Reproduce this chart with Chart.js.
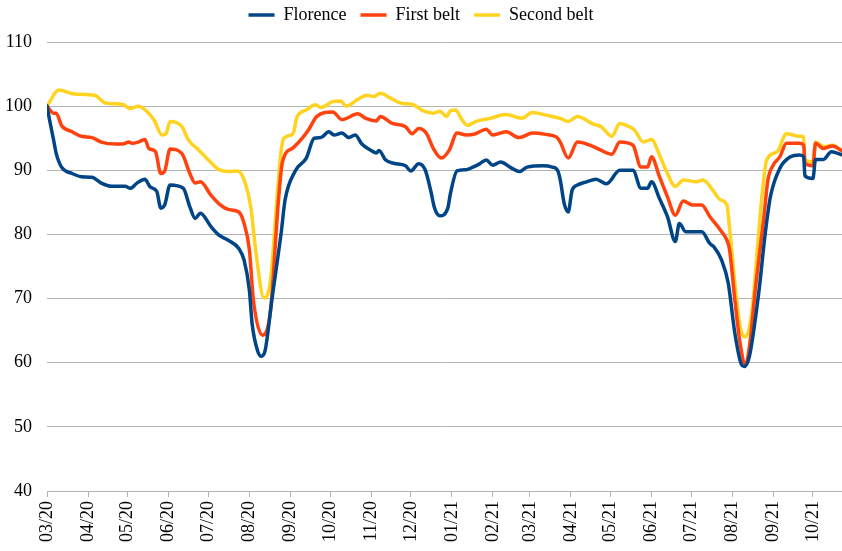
<!DOCTYPE html>
<html>
<head>
<meta charset="utf-8">
<script src="https://cdn.jsdelivr.net/npm/chart.js@4/dist/chart.umd.min.js"></script>
<style>
  html, body { margin: 0; padding: 0; background: #fff; }
  #wrap { width: 842px; height: 551px; }
</style>
</head>
<body>
<div id="wrap"><canvas id="chart"></canvas></div>
<script>
// x = days since 01/03/2020, y = index (start = 100)
const monthDays = [0, 31, 61, 92, 122, 153, 184, 214, 245, 275, 306, 337, 365, 396, 426, 457, 487, 518, 549, 579];
const monthLabels = ['03/20', '04/20', '05/20', '06/20', '07/20', '08/20', '09/20', '10/20', '11/20', '12/20',
                     '01/21', '02/21', '03/21', '04/21', '05/21', '06/21', '07/21', '08/21', '09/21', '10/21'];
const yTicks = [40, 50, 60, 70, 80, 90, 100, 110];

const florenceDays = [0, 2, 5, 7, 11, 19, 26, 34, 41, 49, 59, 63, 68, 74, 78, 83, 86, 89, 93, 103, 108, 112, 116, 124, 130, 137, 145, 149, 153, 155, 159, 162, 165, 170, 177, 180, 188, 196, 202, 207, 213, 217, 223, 228, 233, 238, 245, 249, 251, 256, 262, 271, 275, 281, 286, 290, 293, 297, 303, 305, 310, 317, 322, 327, 332, 337, 343, 350, 357, 363, 375, 382, 386, 388, 391, 394, 397, 401, 408, 415, 423, 433, 443, 449, 454, 457, 463, 469, 475, 478, 483, 495, 501, 504, 510, 515, 520, 525, 527, 531, 538, 543, 547, 554, 562, 569, 572, 573, 579, 581, 587, 593, 601];
const florence = [100, 97.8, 94.7, 92.6, 90.5, 89.5, 89, 88.9, 88, 87.5, 87.5, 87.2, 88, 88.6, 87.4, 86.7, 84.1, 84.6, 87.7, 87.2, 84.3, 82.5, 83.3, 81.2, 79.9, 79.1, 77.8, 76, 71.3, 66.2, 62, 61, 62, 69.8, 80.2, 85.4, 90, 91.9, 95, 95.1, 96, 95.5, 95.8, 95.1, 95.5, 94.1, 93.1, 92.7, 93.1, 91.6, 91.1, 90.7, 89.9, 91, 90, 86.9, 84.1, 82.9, 84.1, 86.4, 89.9, 90.1, 90.5, 91, 91.6, 90.8, 91.3, 90.5, 89.8, 90.5, 90.7, 90.5, 90, 88.5, 84.8, 83.5, 86.9, 87.7, 88.2, 88.6, 87.9, 90, 90, 87.2, 87.2, 88.2, 85.6, 82.8, 78.9, 81.7, 80.4, 80.4, 78.6, 78.1, 76, 72.4, 64.6, 59.7, 59.4, 61, 70.8, 80.2, 86, 90.3, 92.1, 92.4, 92.1, 89.1, 88.7, 91.7, 91.7, 92.9, 92.4];

const firstDays = [0, 5, 7, 11, 19, 26, 34, 41, 52, 57, 62, 64, 69, 74, 77, 82, 86, 89, 93, 102, 108, 112, 116, 124, 131, 137, 145, 149, 153, 156, 163, 169, 175, 178, 186, 193, 198, 204, 216, 223, 235, 241, 249, 252, 261, 271, 276, 281, 287, 292, 298, 304, 310, 317, 324, 332, 337, 347, 357, 367, 377, 385, 388, 394, 401, 413, 419, 427, 433, 443, 449, 454, 457, 463, 469, 475, 481, 488, 495, 501, 509, 514, 516, 520, 524, 528, 531, 536, 542, 545, 549, 554, 559, 569, 572, 573, 579, 581, 587, 594, 601];
const firstBelt = [100, 98.9, 98.9, 97, 96, 95.3, 95.1, 94.4, 94.1, 94.1, 94.4, 94.2, 94.4, 94.8, 93.4, 92.9, 89.5, 89.9, 93.3, 92.6, 89.5, 88, 88.2, 86.1, 84.6, 83.9, 83.5, 81.7, 77.6, 69.8, 64.3, 68.2, 85.4, 91.3, 93.5, 95, 96.4, 98.4, 99.1, 97.9, 98.8, 98.1, 97.7, 98.4, 97.3, 96.8, 95.7, 96.5, 95.7, 93.4, 91.9, 93.1, 95.8, 95.5, 95.7, 96.4, 95.5, 96, 95.1, 95.8, 95.6, 95.2, 94.4, 91.9, 94.4, 93.7, 93.1, 92.5, 94.4, 93.9, 90.5, 90.5, 92.1, 89, 85.9, 83, 85.2, 84.6, 84.6, 82.8, 80.7, 79.1, 77.6, 69.8, 63, 59.7, 62.5, 72.4, 82.8, 88.5, 90.8, 92.1, 94.2, 94.2, 93.9, 91.1, 90.7, 94.2, 93.4, 93.8, 93];

const secondDays = [0, 9, 21, 36, 44, 57, 63, 69, 76, 81, 87, 90, 93, 102, 107, 115, 122, 130, 137, 144, 149, 154, 158, 164, 169, 174, 177, 179, 186, 189, 196, 203, 207, 216, 222, 226, 236, 242, 247, 252, 260, 269, 276, 284, 292, 297, 302, 305, 309, 313, 318, 324, 335, 347, 359, 367, 377, 388, 394, 401, 413, 419, 427, 433, 441, 444, 451, 457, 463, 468, 475, 481, 491, 496, 504, 509, 514, 516, 520, 524, 528, 533, 538, 541, 544, 552, 559, 569, 572, 573, 579, 581, 587, 594, 601];
const secondBelt = [100, 102.5, 101.9, 101.7, 100.5, 100.3, 99.6, 100, 99.1, 97.8, 95.5, 95.7, 97.6, 96.8, 94.7, 93.1, 91.6, 90.1, 89.8, 89.9, 88.5, 84.3, 77.1, 70.1, 72.9, 86, 93, 95, 95.7, 98.3, 99.4, 100.2, 99.8, 100.7, 100.8, 100, 101.2, 101.7, 101.5, 102, 101.2, 100.4, 100.3, 99.3, 98.9, 99.2, 98.4, 99.3, 99.4, 98.1, 97, 97.6, 98.1, 98.7, 98.1, 99, 98.6, 98.1, 97.6, 98.4, 97.2, 96.8, 95.3, 97.3, 96.7, 96.3, 94.4, 94.8, 92.4, 90, 87.5, 88.5, 88.2, 88.5, 86.7, 85.4, 84.6, 81, 72.4, 65.6, 64, 68.2, 80.2, 87, 91.6, 92.9, 95.7, 95.3, 95.2, 91.6, 91.3, 94.4, 93.7, 93.9, 92.9];

const toPoints = (days, vals) => days.map((d, i) => ({ x: d, y: vals[i] }));

const serif = '"Liberation Serif", "Times New Roman", serif';
const gridColor = '#b3b3b3';

// legend keeps its height (space above the plot) but is drawn a bit higher
const legendShift = {
  id: 'legendShift',
  afterLayout(chart) {
    chart.legend.top -= 8;
  }
};

new Chart(document.getElementById('chart'), {
  type: 'line',
  plugins: [legendShift],
  data: {
    datasets: [
      { label: 'Florence', data: toPoints(florenceDays, florence), borderColor: '#004586', backgroundColor: '#004586', borderWidth: 3.5 },
      { label: 'First belt', data: toPoints(firstDays, firstBelt), borderColor: '#ff420e', backgroundColor: '#ff420e', borderWidth: 3.5 },
      { label: 'Second belt', data: toPoints(secondDays, secondBelt), borderColor: '#ffd320', backgroundColor: '#ffd320', borderWidth: 3.5 }
    ]
  },
  options: {
    responsive: true,
    maintainAspectRatio: false,
    animation: false,
    layout: { padding: 0 },
    elements: {
      point: { radius: 0 },
      line: { tension: 0.35, cubicInterpolationMode: 'monotone', borderCapStyle: 'round', borderJoinStyle: 'round' }
    },
    plugins: {
      tooltip: { enabled: false },
      legend: {
        position: 'top',
        labels: {
          color: '#000',
          font: { family: serif, size: 18 },
          usePointStyle: true,
          pointStyle: 'line',
          pointStyleWidth: 26,
          padding: 14
        }
      }
    },
    scales: {
      x: {
        type: 'linear',
        min: 0,
        max: 601,
        afterBuildTicks: (scale) => { scale.ticks = monthDays.map(v => ({ value: v })); },
        afterFit: (scale) => { scale.height = 60; },
        ticks: {
          color: '#000',
          font: { family: serif, size: 18 },
          minRotation: 90,
          maxRotation: 90,
          padding: 4,
          autoSkip: false,
          callback: (v, i) => monthLabels[i]
        },
        grid: { drawOnChartArea: false, drawTicks: true, tickLength: 6, color: gridColor },
        border: { display: true, color: gridColor, width: 1 }
      },
      y: {
        min: 40,
        max: 110,
        afterBuildTicks: (scale) => { scale.ticks = yTicks.map(v => ({ value: v })); },
        afterFit: (scale) => { scale.width = 47; },
        ticks: { color: '#000', font: { family: serif, size: 18 }, padding: 15 },
        grid: { color: gridColor, drawTicks: false },
        border: { display: false }
      }
    }
  }
});
</script>
</body>
</html>
